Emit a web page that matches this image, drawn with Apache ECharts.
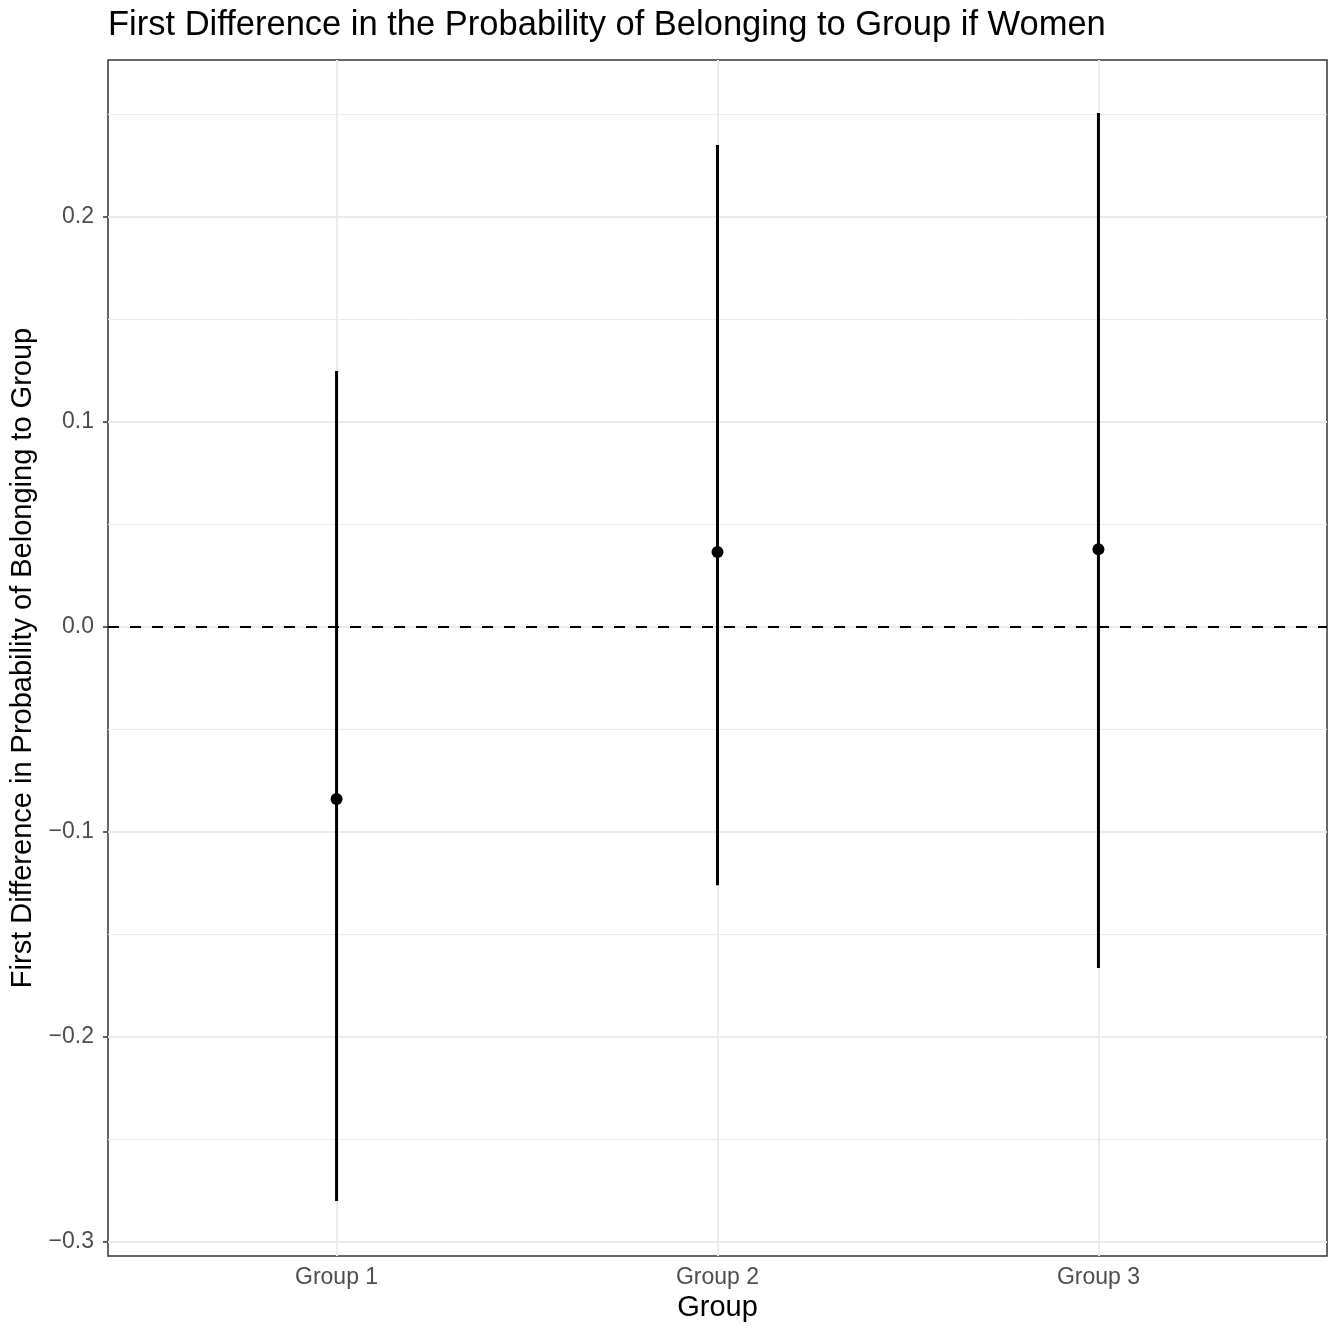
<!DOCTYPE html>
<html>
<head>
<meta charset="utf-8">
<script src="https://cdn.jsdelivr.net/npm/echarts@6/dist/echarts.min.js"></script>
<style>
  html, body { margin: 0; padding: 0; background: #fff; }
  #chart { width: 1335px; height: 1330px; }
</style>
</head>
<body>
<div id="chart"></div>
<script>
// Estimated first differences with their interval bounds
const groups = ['Group 1', 'Group 2', 'Group 3'];
const estimate = [-0.0839, 0.0366, 0.0380];
const lower = [-0.2800, -0.1259, -0.1663];
const upper = [0.1249, 0.2351, 0.2507];

// Axis ticks
const yMajorTicks = [-0.3, -0.2, -0.1, 0.0, 0.1, 0.2];
const yMinorTicks = [-0.25, -0.15, -0.05, 0.05, 0.15, 0.25];
const xTicks = [1, 2, 3];

const fmtY = v => (v < -1e-9 ? '\u2212' : '') + Math.abs(v).toFixed(1);

const chart = echarts.init(document.getElementById('chart'), null, { renderer: 'canvas' });

const font = 'Liberation Sans, Arial, Helvetica, sans-serif';

const gridMajor = { color: '#EBEBEB', width: 2, type: 'solid' };
const gridMinor = { color: '#EBEBEB', width: 1, type: 'solid' };

const option = {
  backgroundColor: '#ffffff',
  animation: false,
  title: {
    text: 'First Difference in the Probability of Belonging to Group if Women',
    left: 103,
    top: 3,
    textStyle: { fontFamily: font, fontSize: 34.5, fontWeight: 'normal', color: '#000' }
  },
  grid: {
    left: 108, right: 8, top: 60, bottom: 74,
    show: true, borderColor: '#333333', borderWidth: 1.5, backgroundColor: 'transparent'
  },
  xAxis: {
    type: 'value',
    min: 0.4, max: 3.6,
    name: 'Group',
    nameLocation: 'middle',
    nameGap: 32,
    nameTextStyle: { fontFamily: font, fontSize: 29, color: '#000' },
    axisLine: { show: false },
    splitLine: { show: false },
    axisTick: { show: true, customValues: xTicks, length: 5, lineStyle: { color: '#333333', width: 1.5 } },
    axisLabel: {
      customValues: xTicks,
      margin: 10,
      fontFamily: font, fontSize: 23, color: '#4D4D4D',
      formatter: v => groups[Math.round(v) - 1]
    }
  },
  yAxis: {
    type: 'value',
    min: -0.3068, max: 0.2766,
    name: 'First Difference in Probability of Belonging to Group',
    nameLocation: 'middle',
    nameGap: 65,
    nameRotate: 90,
    nameTextStyle: { fontFamily: font, fontSize: 29, color: '#000' },
    axisLine: { show: false },
    splitLine: { show: false },
    axisTick: { show: true, customValues: yMajorTicks, length: 5, lineStyle: { color: '#333333', width: 1.5 } },
    axisLabel: {
      customValues: yMajorTicks,
      margin: 14,
      fontFamily: font, fontSize: 23, color: '#4D4D4D',
      formatter: fmtY
    }
  },
  series: [
    {
      // panel grid lines
      type: 'line',
      data: [],
      silent: true,
      z: 1,
      markLine: {
        z: 1,
        silent: true,
        symbol: 'none',
        label: { show: false },
        animation: false,
        data: [
          ...yMinorTicks.map(v => ({ yAxis: v, lineStyle: gridMinor })),
          ...yMajorTicks.map(v => ({ yAxis: v, lineStyle: gridMajor })),
          ...xTicks.map(v => ({ xAxis: v, lineStyle: gridMajor }))
        ]
      }
    },
    {
      // zero reference line
      type: 'line',
      data: [],
      silent: true,
      z: 2,
      markLine: {
        z: 2,
        silent: true,
        symbol: 'none',
        label: { show: false },
        animation: false,
        data: [{ yAxis: 0, lineStyle: { color: '#000', width: 2, type: [11, 11] } }]
      }
    },
    {
      // interval ranges
      type: 'custom',
      z: 4,
      data: groups.map((g, i) => [i + 1, lower[i], upper[i]]),
      renderItem: (params, api) => {
        const p0 = api.coord([api.value(0), api.value(1)]);
        const p1 = api.coord([api.value(0), api.value(2)]);
        return {
          type: 'rect',
          shape: { x: p0[0] - 1.5, y: p1[1], width: 3, height: p0[1] - p1[1] },
          style: { fill: '#000' }
        };
      }
    },
    {
      // point estimates
      type: 'scatter',
      z: 6,
      symbol: 'circle',
      symbolSize: 12,
      itemStyle: { color: '#000', opacity: 1 },
      data: groups.map((g, i) => [i + 1, estimate[i]])
    }
  ]
};

chart.setOption(option);
</script>
</body>
</html>
